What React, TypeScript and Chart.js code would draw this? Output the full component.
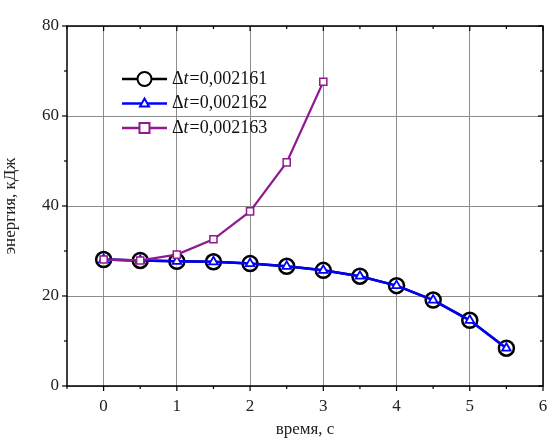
import React, { useEffect, useRef } from "react";
import { Chart, registerables } from "chart.js";

Chart.register(...registerables);

const times = [0, 0.5, 1, 1.5, 2, 2.5, 3, 3.5, 4, 4.5, 5, 5.5];
const energyA = [28.1, 27.9, 27.7, 27.6, 27.2, 26.6, 25.7, 24.4, 22.3, 19.1, 14.6, 8.4];
const energyB = [28.1, 27.9, 27.7, 27.6, 27.2, 26.6, 25.7, 24.4, 22.3, 19.1, 14.6, 8.4];
const timesC = [0, 0.5, 1, 1.5, 2, 2.5, 3];
const energyC = [28.1, 27.9, 29.2, 32.6, 38.8, 49.7, 67.6];
const seriesLabels = ["0,002161", "0,002162", "0,002163"];
const xTicks = [0, 1, 2, 3, 4, 5, 6];
const yTicks = [0, 20, 40, 60, 80];
const xMinor = [-0.5, 0.5, 1.5, 2.5, 3.5, 4.5, 5.5];
const yMinor = [10, 30, 50, 70];

const FONT = "'Liberation Serif', 'Times New Roman', serif";
const colors = ["#000000", "#0000ff", "#8e1a8e"];

const framePlugin = {
  id: "frame",
  afterDraw(chart: any) {
    const { ctx, chartArea: a, scales } = chart;
    const xs = scales.x, ys = scales.y;
    ctx.save();
    ctx.strokeStyle = "#000";
    ctx.lineWidth = 1.5;
    ctx.strokeRect(a.left, a.top, a.right - a.left, a.bottom - a.top);
    ctx.lineWidth = 1.2;
    const tick = (x1: number, y1: number, x2: number, y2: number) => {
      ctx.beginPath();
      ctx.moveTo(x1, y1);
      ctx.lineTo(x2, y2);
      ctx.stroke();
    };
    xTicks.forEach((v) => {
      const p = xs.getPixelForValue(v);
      tick(p, a.bottom, p, a.bottom + 5);
      tick(p, a.top, p, a.top + 5);
    });
    xMinor.forEach((v) => {
      const p = xs.getPixelForValue(v);
      tick(p, a.bottom, p, a.bottom + 3);
      tick(p, a.top, p, a.top + 3);
    });
    yTicks.forEach((v) => {
      const p = ys.getPixelForValue(v);
      tick(a.left - 5, p, a.left, p);
      tick(a.right - 5, p, a.right, p);
    });
    yMinor.forEach((v) => {
      const p = ys.getPixelForValue(v);
      tick(a.left - 3, p, a.left, p);
      tick(a.right - 3, p, a.right, p);
    });

    // legend
    const lx = 122, lw = 45, ty0 = 79, dy = 24.5;
    const styles = ["circle", "triangle", "rect"];
    const radii = [7, 5, 5];
    seriesLabels.forEach((lab, i) => {
      const y = ty0 + i * dy;
      ctx.strokeStyle = colors[i];
      ctx.lineWidth = 2.5;
      tick(lx, y, lx + lw, y);
      ctx.fillStyle = "#fff";
      ctx.lineWidth = 2;
      const cx = lx + lw / 2, r = radii[i];
      ctx.beginPath();
      if (styles[i] === "circle") ctx.arc(cx, y, r, 0, Math.PI * 2);
      else if (styles[i] === "triangle") {
        ctx.moveTo(cx, y - r);
        ctx.lineTo(cx + r * 0.9, y + r * 0.6);
        ctx.lineTo(cx - r * 0.9, y + r * 0.6);
        ctx.closePath();
      } else ctx.rect(cx - r, y - r, 2 * r, 2 * r);
      ctx.fill();
      ctx.stroke();
      ctx.fillStyle = "#111";
      ctx.textBaseline = "middle";
      ctx.textAlign = "left";
      let x = lx + lw + 5;
      ctx.font = `18px ${FONT}`;
      ctx.fillText("Δ", x, y);
      x += ctx.measureText("Δ").width;
      ctx.font = `italic 18px ${FONT}`;
      ctx.fillText("t", x, y);
      x += ctx.measureText("t").width + 1;
      ctx.font = `18px ${FONT}`;
      ctx.fillText("=" + lab, x, y);
    });
    ctx.restore();
  },
};

export default function App() {
  const ref = useRef<HTMLCanvasElement>(null);
  useEffect(() => {
    document.body.style.margin = "0";
    const ch = new Chart(ref.current!, {
      type: "line",
      data: {
        datasets: [
          {
            label: seriesLabels[0],
            data: times.map((t, i) => ({ x: t, y: energyA[i] })),
            borderColor: colors[0],
            borderWidth: 2.5,
            pointStyle: "circle",
            pointRadius: 7.5,
            pointBorderWidth: 2.5,
            pointBackgroundColor: "rgba(255,255,255,0.6)",
            pointBorderColor: colors[0],
            order: 2,
          },
          {
            label: seriesLabels[1],
            data: times.map((t, i) => ({ x: t, y: energyB[i] })),
            borderColor: colors[1],
            borderWidth: 2.5,
            pointStyle: "triangle",
            pointRadius: 5,
            pointBorderWidth: 1.8,
            pointBackgroundColor: "#fff",
            pointBorderColor: colors[1],
            order: 1,
          },
          {
            label: seriesLabels[2],
            data: timesC.map((t, i) => ({ x: t, y: energyC[i] })),
            borderColor: colors[2],
            borderWidth: 2.2,
            pointStyle: "rect",
            pointRadius: 5,
            pointBorderWidth: 1.5,
            pointBackgroundColor: "#fff",
            pointBorderColor: colors[2],
            order: 0,
          },
        ],
      },
      options: {
        animation: false,
        responsive: false,
        layout: { padding: { top: 26, right: 7, left: 0, bottom: 0 } },
        plugins: { legend: { display: false }, tooltip: { enabled: false } },
        scales: {
          x: {
            type: "linear",
            min: -0.5,
            max: 6,
            afterBuildTicks: (s: any) => {
              s.ticks = xTicks.map((v) => ({ value: v }));
            },
            afterFit: (s: any) => {
              s.height = 54;
              s.paddingRight = 0;
              s.paddingLeft = 0;
            },
            border: { display: false },
            grid: { color: "#8c8c8c", lineWidth: 1, drawTicks: false },
            ticks: {
              color: "#222",
              font: { family: FONT, size: 17 },
              padding: 10,
              maxRotation: 0,
            },
            title: {
              display: true,
              text: "время, с",
              color: "#222",
              font: { family: FONT, size: 17 },
              padding: { top: 0, bottom: 0 },
            },
          },
          y: {
            min: 0,
            max: 80,
            afterBuildTicks: (s: any) => {
              s.ticks = yTicks.map((v) => ({ value: v }));
            },
            afterFit: (s: any) => {
              s.width = 67;
              s.paddingTop = 0;
              s.paddingBottom = 0;
            },
            border: { display: false },
            grid: { color: "#8c8c8c", lineWidth: 1, drawTicks: false },
            ticks: {
              color: "#222",
              font: { family: FONT, size: 17 },
              padding: 8,
            },
            title: {
              display: true,
              text: "энергия, кДж",
              color: "#222",
              font: { family: FONT, size: 17 },
              padding: { top: 0, bottom: 4 },
            },
          },
        },
      },
      plugins: [framePlugin],
    } as any);
    return () => ch.destroy();
  }, []);
  return (
    <div style={{ width: 553, height: 440, background: "#fff" }}>
      <canvas ref={ref} width={553} height={440} />
    </div>
  );
}
